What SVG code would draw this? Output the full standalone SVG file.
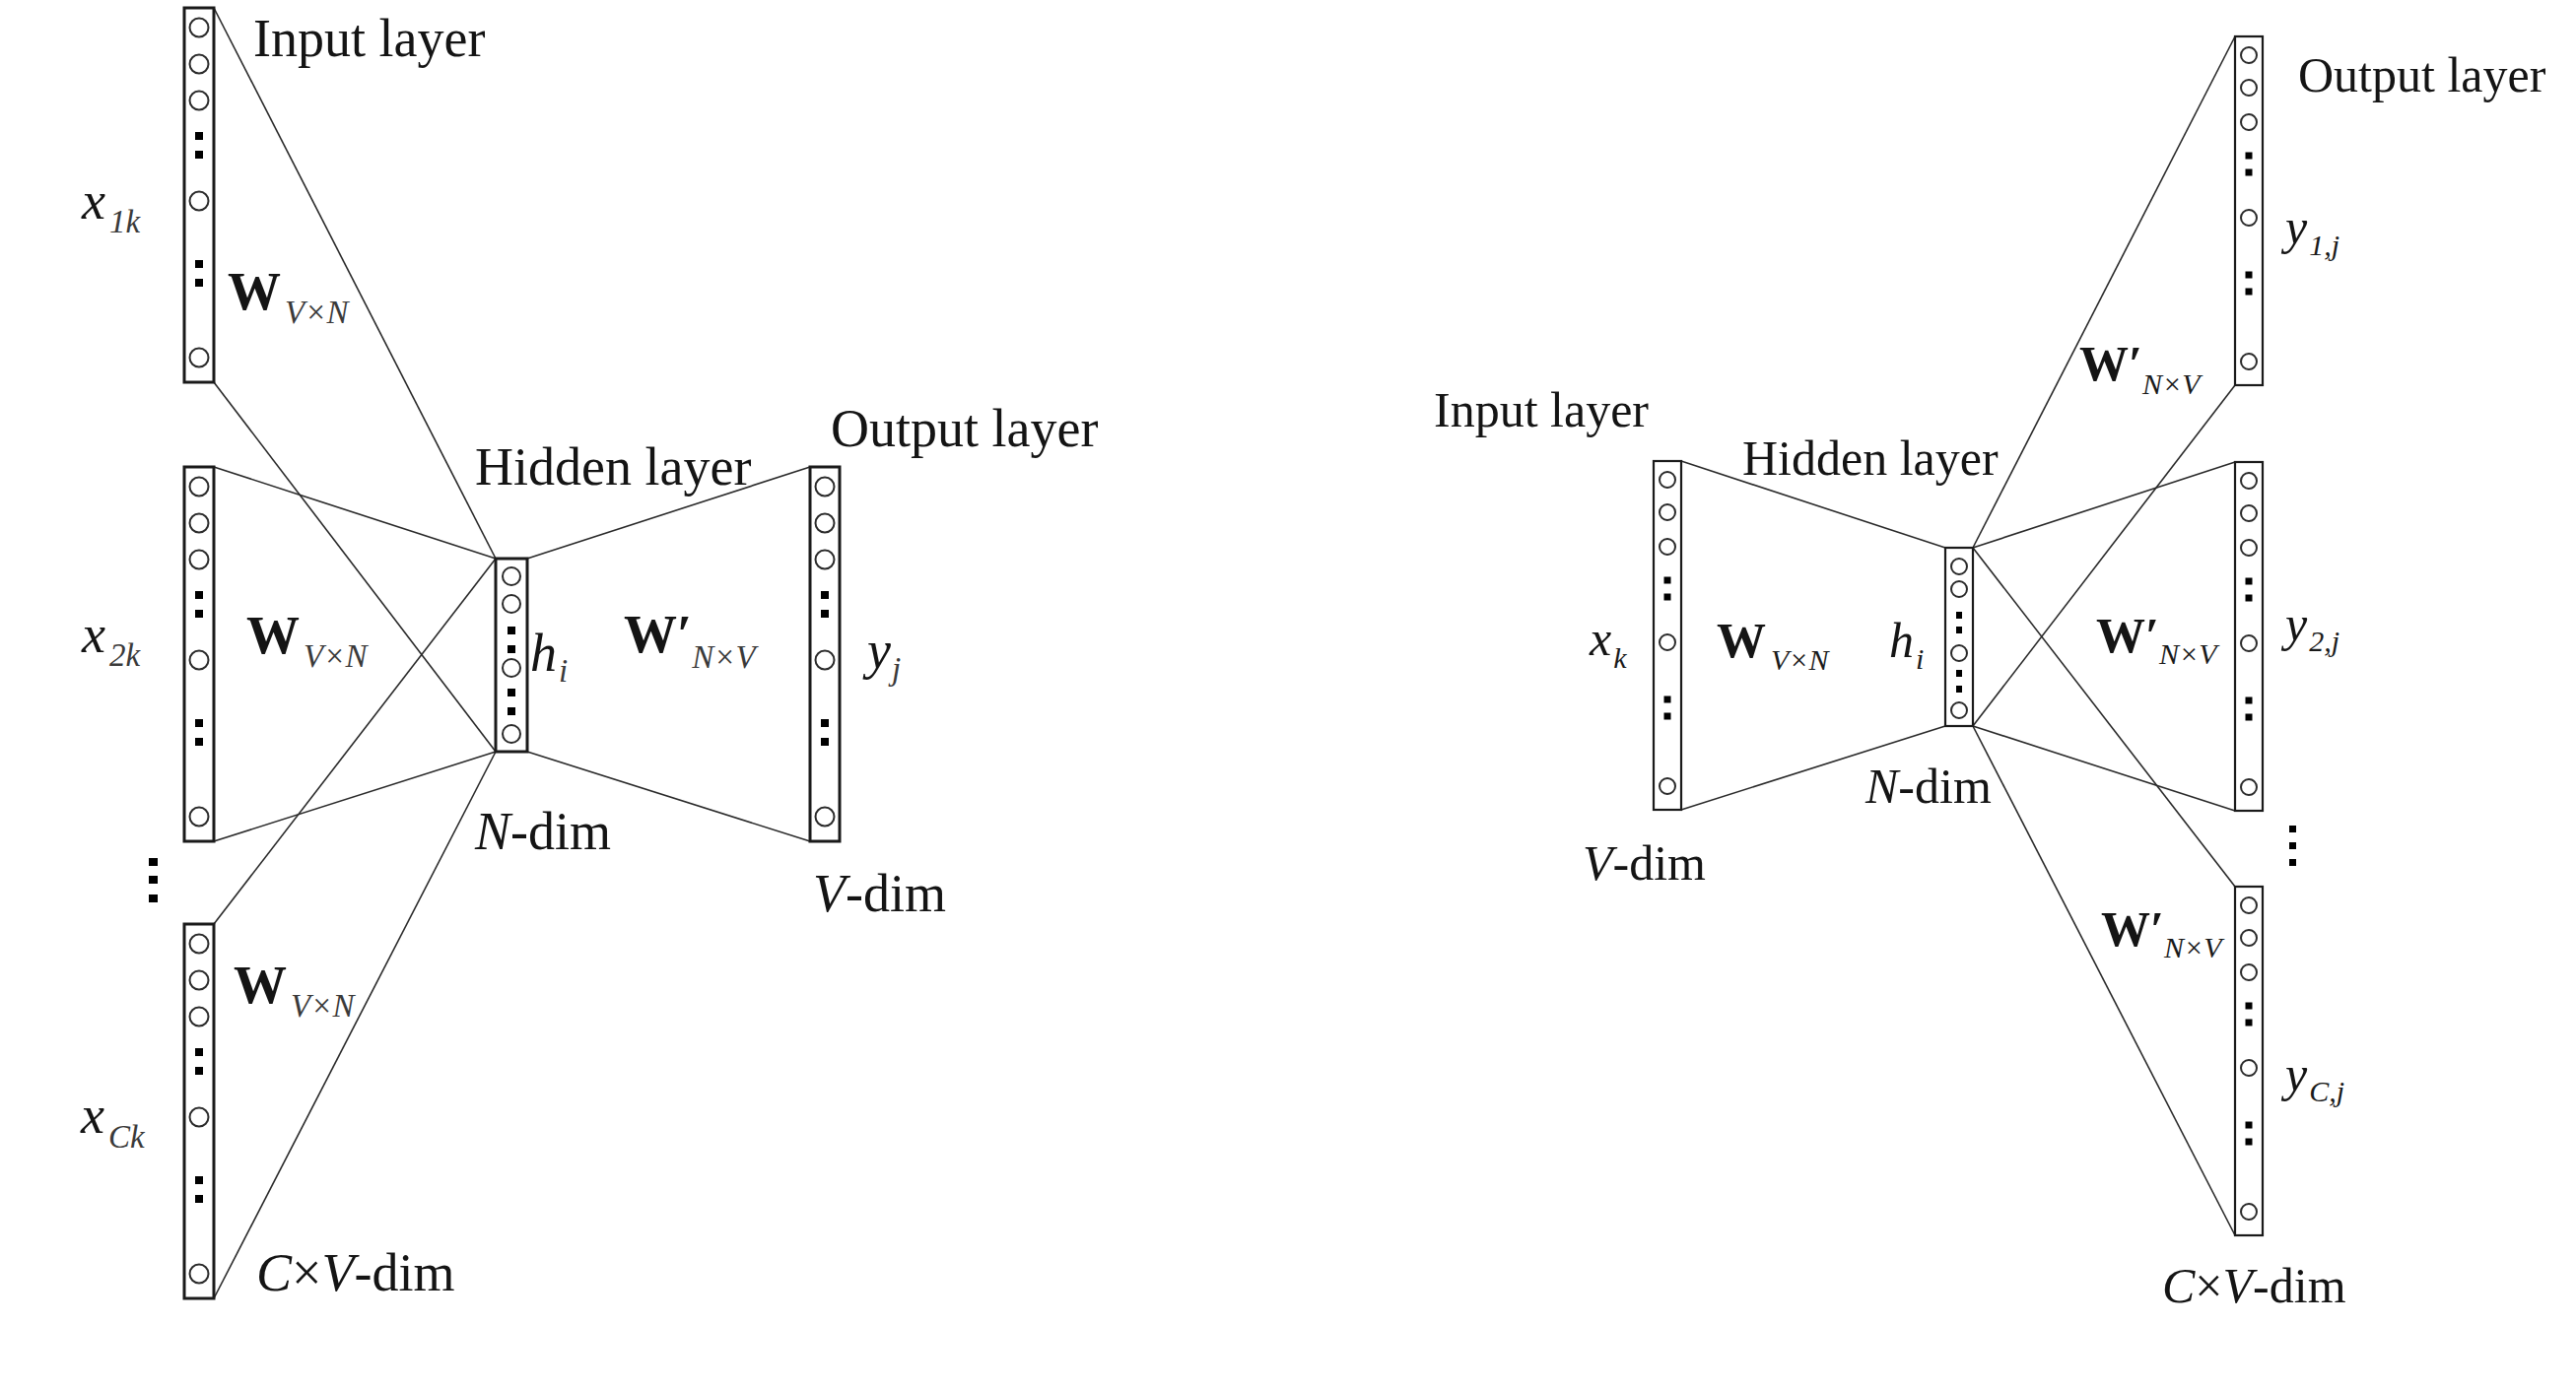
<svg xmlns="http://www.w3.org/2000/svg" xmlns:xlink="http://www.w3.org/1999/xlink" width="2614" height="1412" viewBox="0 0 2614 1412">
<style>
  text { font-family: "Liberation Serif", "Times New Roman", serif; fill: #141414; }
  .L { font-size: 54px; }
  .R { font-size: 50px; }
  .it { font-style: italic; }
  .bd { font-weight: bold; }
  .subL { font-size: 33px; font-style: italic; font-weight: normal; fill: #3a3a3a; }
  .subR { font-size: 30px; font-style: italic; font-weight: normal; fill: #1a1a1a; }
  .frameL { fill: none; stroke: #1a1a1a; stroke-width: 3; }
  .frameR { fill: none; stroke: #1a1a1a; stroke-width: 2.2; }
  .node { fill: #fff; stroke: #2a2a2a; stroke-width: 2; }
  .dot { fill: #000; stroke: none; }
  .conn line { stroke: #2a2a2a; stroke-width: 1.6; }
</style>
<defs>
  <g id="tplL">
    <rect class="frameL" x="-15" y="0" width="30" height="380"/>
    <circle class="node" cx="0" cy="20" r="9.5"/>
    <circle class="node" cx="0" cy="57" r="9.5"/>
    <circle class="node" cx="0" cy="94" r="9.5"/>
    <rect class="dot" x="-4" y="126" width="8" height="8"/>
    <rect class="dot" x="-4" y="145" width="8" height="8"/>
    <circle class="node" cx="0" cy="196" r="9.5"/>
    <rect class="dot" x="-4" y="256" width="8" height="8"/>
    <rect class="dot" x="-4" y="275" width="8" height="8"/>
    <circle class="node" cx="0" cy="355" r="9.5"/>
  </g>
  <g id="tplR">
    <rect class="frameR" x="-14" y="0" width="28" height="354"/>
    <circle class="node" cx="0" cy="19" r="8"/>
    <circle class="node" cx="0" cy="52" r="8"/>
    <circle class="node" cx="0" cy="87" r="8"/>
    <rect class="dot" x="-3.5" y="117.5" width="7" height="7"/>
    <rect class="dot" x="-3.5" y="134.5" width="7" height="7"/>
    <circle class="node" cx="0" cy="184" r="8"/>
    <rect class="dot" x="-3.5" y="238.5" width="7" height="7"/>
    <rect class="dot" x="-3.5" y="255.5" width="7" height="7"/>
    <circle class="node" cx="0" cy="330" r="8"/>
  </g>
</defs>
<rect x="0" y="0" width="2614" height="1412" fill="#ffffff"/>

<!-- connectors -->
<g id="connectors" class="conn">
  <line x1="217" y1="8" x2="503" y2="567"/>
  <line x1="217" y1="388" x2="503" y2="763"/>
  <line x1="217" y1="474" x2="503" y2="567"/>
  <line x1="217" y1="854" x2="503" y2="763"/>
  <line x1="217" y1="938" x2="503" y2="567"/>
  <line x1="217" y1="1318" x2="503" y2="763"/>
  <line x1="535" y1="567" x2="822" y2="474"/>
  <line x1="535" y1="763" x2="822" y2="854"/>

  <line x1="1706" y1="468" x2="1974" y2="556"/>
  <line x1="1706" y1="822" x2="1974" y2="737"/>
  <line x1="2002" y1="556" x2="2268" y2="37"/>
  <line x1="2002" y1="556" x2="2268" y2="469"/>
  <line x1="2002" y1="556" x2="2268" y2="900"/>
  <line x1="2002" y1="737" x2="2268" y2="391"/>
  <line x1="2002" y1="737" x2="2268" y2="823"/>
  <line x1="2002" y1="737" x2="2268" y2="1254"/>
</g>

<!-- Left (CBOW) nodes -->
<g id="cbow-input-1"><use xlink:href="#tplL" href="#tplL" x="202" y="8"/></g>
<g id="cbow-input-2"><use xlink:href="#tplL" href="#tplL" x="202" y="474"/></g>
<g id="cbow-input-C"><use xlink:href="#tplL" href="#tplL" x="202" y="938"/></g>
<g id="cbow-ellipsis">
  <rect class="dot" x="151" y="871" width="9" height="8"/>
  <rect class="dot" x="151" y="889" width="9" height="8"/>
  <rect class="dot" x="151" y="908" width="9" height="8"/>
</g>
<g id="cbow-hidden">
  <rect class="frameL" x="503" y="567" width="32" height="196"/>
  <circle class="node" cx="519" cy="585" r="9"/>
  <circle class="node" cx="519" cy="613" r="9"/>
  <rect class="dot" x="515" y="636" width="8" height="8"/>
  <rect class="dot" x="515" y="655" width="8" height="8"/>
  <circle class="node" cx="519" cy="678" r="9"/>
  <rect class="dot" x="515" y="699" width="8" height="8"/>
  <rect class="dot" x="515" y="718" width="8" height="8"/>
  <circle class="node" cx="519" cy="745" r="9"/>
</g>
<g id="cbow-output"><use xlink:href="#tplL" href="#tplL" x="837" y="474"/></g>

<g id="cbow-labels">
  <text class="L" x="257" y="57">Input layer</text>
  <text class="L it" x="83" y="222">x<tspan class="subL" dx="4" y="236">1k</tspan></text>
  <text class="L bd" x="231" y="314">W<tspan class="subL" dx="4" y="328">V×N</tspan></text>
  <text class="L it" x="83" y="662">x<tspan class="subL" dx="4" y="676">2k</tspan></text>
  <text class="L bd" x="250" y="663">W<tspan class="subL" dx="4" y="677">V×N</tspan></text>
  <text class="L bd" x="237" y="1018">W<tspan class="subL" dx="4" y="1032">V×N</tspan></text>
  <text class="L it" x="82" y="1150">x<tspan class="subL" dx="4" y="1165">Ck</tspan></text>
  <text class="L" x="260" y="1310"><tspan class="it">C</tspan>×<tspan class="it">V</tspan>-dim</text>
  <text class="L" x="482" y="492">Hidden layer</text>
  <text class="L it" x="538" y="681">h<tspan class="subL" dx="2" y="692">i</tspan></text>
  <text class="L" x="482" y="862"><tspan class="it">N</tspan>-dim</text>
  <text class="L bd" x="633" y="662">W′<tspan class="subL" dx="0" y="678">N×V</tspan></text>
  <text class="L" x="843" y="453">Output layer</text>
  <text class="L it" x="880" y="678">y<tspan class="subL" dx="1" y="690">j</tspan></text>
  <text class="L" x="825" y="925"><tspan class="it">V</tspan>-dim</text>
</g>

<!-- Right (Skip-gram) nodes -->
<g id="sg-input"><use xlink:href="#tplR" href="#tplR" x="1692" y="468"/></g>
<g id="sg-hidden">
  <rect class="frameR" x="1974" y="556" width="28" height="181"/>
  <circle class="node" cx="1988" cy="575" r="8"/>
  <circle class="node" cx="1988" cy="598" r="8"/>
  <rect class="dot" x="1985" y="621" width="6" height="7"/>
  <rect class="dot" x="1985" y="636" width="6" height="7"/>
  <circle class="node" cx="1988" cy="663" r="8"/>
  <rect class="dot" x="1985" y="680" width="6" height="7"/>
  <rect class="dot" x="1985" y="696" width="6" height="7"/>
  <circle class="node" cx="1988" cy="721" r="8"/>
</g>
<g id="sg-output-1"><use xlink:href="#tplR" href="#tplR" x="2282" y="37"/></g>
<g id="sg-output-2"><use xlink:href="#tplR" href="#tplR" x="2282" y="469"/></g>
<g id="sg-output-C"><use xlink:href="#tplR" href="#tplR" x="2282" y="900"/></g>
<g id="sg-ellipsis">
  <rect class="dot" x="2323" y="838" width="7" height="7"/>
  <rect class="dot" x="2323" y="855" width="7" height="7"/>
  <rect class="dot" x="2323" y="872" width="7" height="7"/>
</g>

<g id="sg-labels">
  <text class="R" x="1455" y="433">Input layer</text>
  <text class="R" x="1768" y="482">Hidden layer</text>
  <text class="R it" x="1613" y="665">x<tspan class="subR" dx="2" y="678">k</tspan></text>
  <text class="R bd" x="1742" y="667">W<tspan class="subR" dx="5" y="680">V×N</tspan></text>
  <text class="R it" x="1917" y="667">h<tspan class="subR" dx="2" y="679">i</tspan></text>
  <text class="R" x="1893" y="815"><tspan class="it">N</tspan>-dim</text>
  <text class="R" x="1606" y="893"><tspan class="it">V</tspan>-dim</text>
  <text class="R" x="2332" y="93">Output layer</text>
  <text class="R bd" x="2110" y="386">W′<tspan class="subR" dx="0" y="400">N×V</tspan></text>
  <text class="R it" x="2319" y="247">y<tspan class="subR" dx="2" y="259">1,j</tspan></text>
  <text class="R bd" x="2127" y="662">W′<tspan class="subR" dx="0" y="674">N×V</tspan></text>
  <text class="R it" x="2319" y="650">y<tspan class="subR" dx="2" y="661">2,j</tspan></text>
  <text class="R bd" x="2132" y="960">W′<tspan class="subR" dx="0" y="972">N×V</tspan></text>
  <text class="R it" x="2319" y="1107">y<tspan class="subR" dx="2" y="1118">C,j</tspan></text>
  <text class="R" x="2194" y="1322"><tspan class="it">C</tspan>×<tspan class="it">V</tspan>-dim</text>
</g>
</svg>
